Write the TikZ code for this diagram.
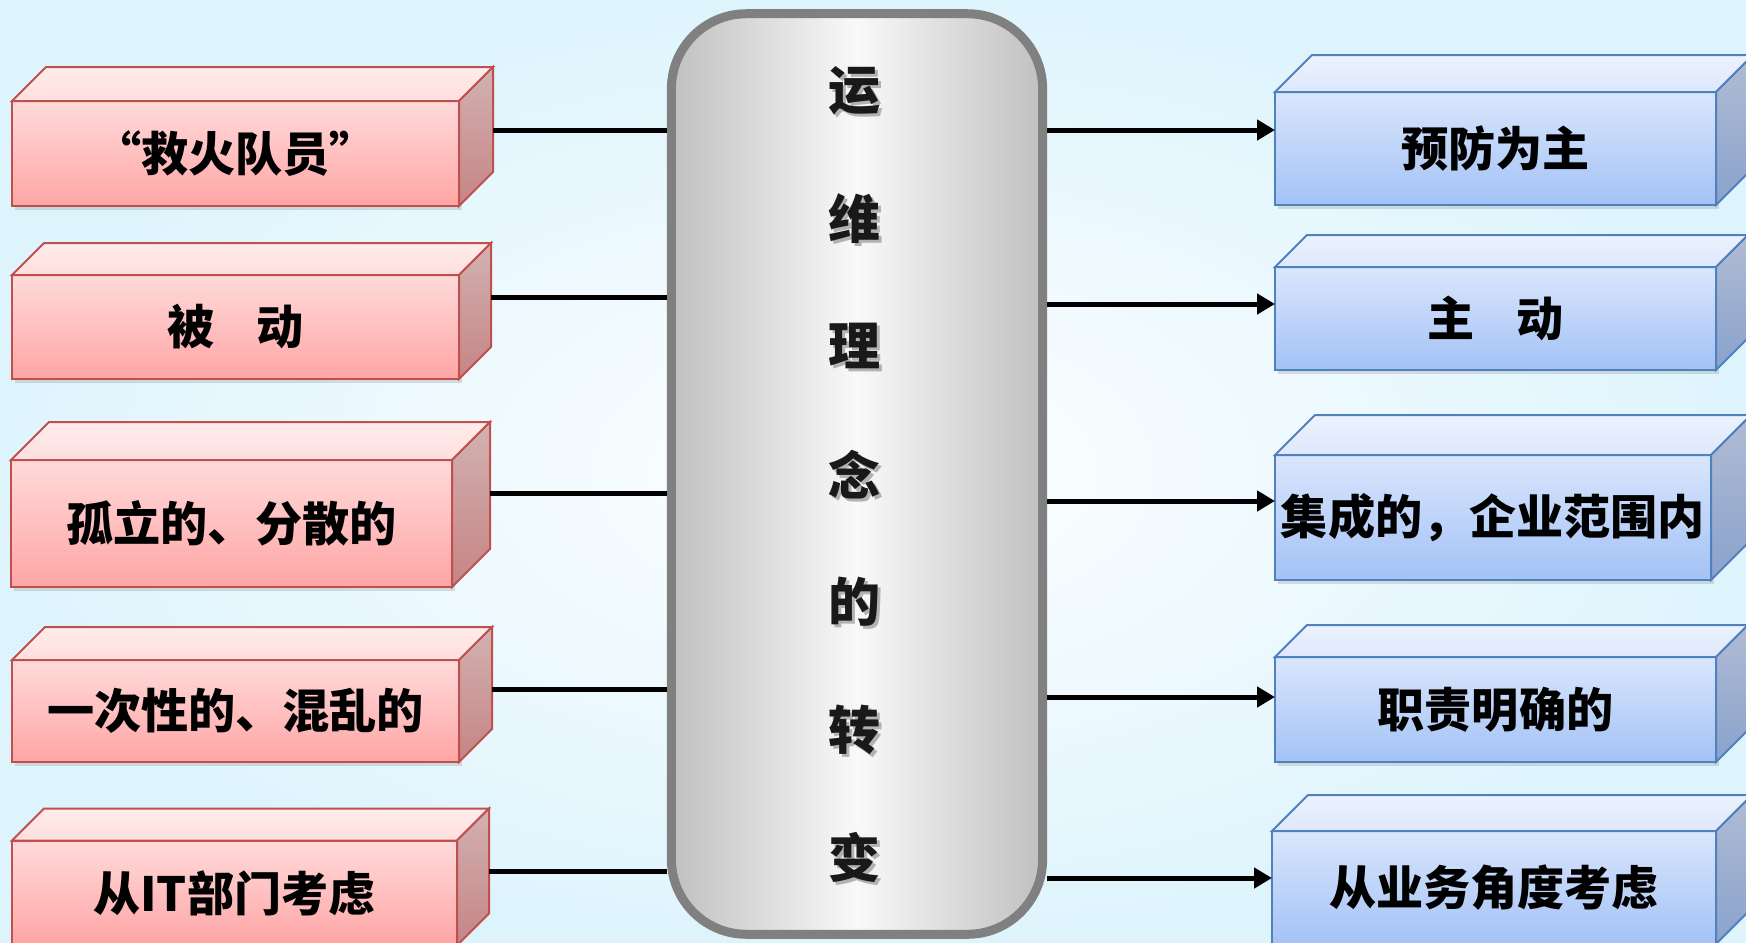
\documentclass[tikz,border=0pt]{standalone}
\usepackage{fontspec}
\setmainfont{Noto Sans CJK SC Black}
\usetikzlibrary{arrows.meta,calc,shadows}
\definecolor{bgblue}{RGB}{222,244,253}
\definecolor{redline}{RGB}{192,80,77}
\definecolor{redtopA}{RGB}{255,236,236}
\definecolor{redtopB}{RGB}{255,222,222}
\definecolor{redfrontA}{RGB}{255,218,218}
\definecolor{redfrontB}{RGB}{255,165,165}
\definecolor{redsideA}{RGB}{210,178,178}
\definecolor{redsideB}{RGB}{198,132,132}
\definecolor{blueline}{RGB}{79,129,189}
\definecolor{bluetopA}{RGB}{236,242,253}
\definecolor{bluetopB}{RGB}{222,232,252}
\definecolor{bluefrontA}{RGB}{218,230,252}
\definecolor{bluefrontB}{RGB}{163,194,246}
\definecolor{bluesideA}{RGB}{176,188,212}
\definecolor{bluesideB}{RGB}{138,162,204}
\definecolor{coreline}{RGB}{128,128,128}
\definecolor{coreside}{RGB}{192,192,192}
\definecolor{coremid}{RGB}{249,249,249}
\tikzset{
  lbl/.style={font=\fontsize{13.4}{16}\selectfont,text=black},
  redfront/.style={draw=redline,line width=0.02cm,top color=redfrontA,bottom color=redfrontB,
    inner sep=0pt,outer sep=0pt,drop shadow={shadow xshift=0.03cm,shadow yshift=-0.04cm,opacity=.25}},
  redtop/.style={draw=redline,line width=0.02cm,top color=redtopA,bottom color=redtopB},
  redside/.style={draw=redline,line width=0.02cm,top color=redsideA,bottom color=redsideB},
  bluefront/.style={draw=blueline,line width=0.02cm,top color=bluefrontA,bottom color=bluefrontB,
    inner sep=0pt,outer sep=0pt,drop shadow={shadow xshift=0.03cm,shadow yshift=-0.04cm,opacity=.25}},
  bluetop/.style={draw=blueline,line width=0.02cm,top color=bluetopA,bottom color=bluetopB},
  blueside/.style={draw=blueline,line width=0.02cm,top color=bluesideA,bottom color=bluesideB},
  link/.style={line width=0.05cm},
  arr/.style={link,-{Triangle[length=0.18cm,width=0.2cm]}}
}
\begin{document}
\begin{tikzpicture}[x=0.01cm,y=-0.01cm]
\useasboundingbox (0,0) rectangle (1746,942);
\clip (0,0) rectangle (1746,942);
%background
\shade[inner color=white,outer color=bgblue] (0,0) rectangle (1746,942);

%centre bar
\node[draw=coreline,line width=0.09cm,rounded corners=0.75cm,left color=coreside,right color=coreside,
  middle color=coremid,minimum width=3.71cm,minimum height=9.2cm] (core) at (857,474) {};
\foreach \c [count=\i] in {运,维,理,念,的,转,变}{
\node[font=\fontsize{14.8}{18}\selectfont,text=black!30] (s\i) at (858,{94+127.7*(\i-1)}) {\c};
\node[font=\fontsize{14.8}{18}\selectfont,text=black!90] (c\i) at (855,{91+127.7*(\i-1)}) {\c};
}

%left cubes
\foreach \n/\x/\y/\w/\h/\d/\o/\t in {
L1/235.5/153.5/447/105/34/-23.5/{“救火队员”},
L2/235.5/327/447/104/32/-30/{被\hspace{0.9em}动},
L3/231.5/523.5/441/127/38/-30.5/{孤立的、分散的},
L4/235.5/711/447/102/33/-22/{一次性的、混乱的},
L5/234.5/893/445/105/32/-22/{从IT部门考虑}}{
\node[redfront,lbl,minimum width=\w*0.01cm,minimum height=\h*0.01cm] (\n) at (\x,\y) {\t};
\draw[redtop](\n.north west)--++(\d,-\d)--([shift={(\d,-\d)}]\n.north east)--(\n.north east)--cycle;
\draw[redside](\n.north east)--++(\d,-\d)--([shift={(\d,-\d)}]\n.south east)--(\n.south east)--cycle;
\coordinate (\n-p) at ([shift={(\d,\o)}]\n.east);
\draw[link](\n-p)--(\n-p -| core.west);
}

%right cubes
\foreach \n/\x/\y/\w/\h/\d/\o/\t in {
R1/1495.5/148.5/441/113/37/-18.5/{预防为主},
R2/1495.5/318.5/441/103/32/-14.5/{主\hspace{0.9em}动},
R3/1493/517.5/436/125/40/-16.5/{集成的，企业范围内},
R4/1495.5/709.5/441/105/32/-12.5/{职责明确的},
R5/1494/887.5/444/113/36/-9.5/{从业务角度考虑}}{
\node[bluefront,lbl,minimum width=\w*0.01cm,minimum height=\h*0.01cm] (\n) at (\x,\y) {\t};
\draw[bluetop](\n.north west)--++(\d,-\d)--([shift={(\d,-\d)}]\n.north east)--(\n.north east)--cycle;
\draw[blueside](\n.north east)--++(\d,-\d)--([shift={(\d,-\d)}]\n.south east)--(\n.south east)--cycle;
\coordinate (\n-p) at ([shift={(0,\o)}]\n.west);
\draw[arr](\n-p -| core.east)--(\n-p);
}
\end{tikzpicture}
\end{document}
